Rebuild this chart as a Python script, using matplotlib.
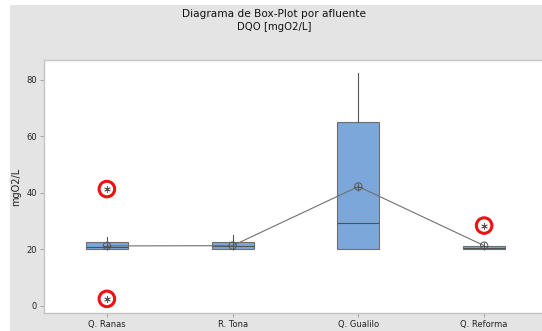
import matplotlib
matplotlib.use("Agg")
import matplotlib.pyplot as plt
from matplotlib.patches import Rectangle

categories = ["Q. Ranas", "R. Tona", "Q. Gualilo", "Q. Reforma"]
q1 = [20.1, 20.1, 20.1, 20.1]
med = [21.0, 21.3, 29.2, 20.6]
q3 = [22.7, 22.7, 65.1, 21.3]
whislo = [20.1, 20.1, 20.1, 20.1]
whishi = [24.5, 25.0, 82.2, 21.3]
means = [21.2, 21.3, 42.2, 21.3]
outliers = [[41.3, 2.5], [], [], [28.4]]
yticks = [0, 20, 40, 60, 80]

W, H = 542, 331
fig = plt.figure(figsize=(W / 100, H / 100), dpi=100)
fig.patch.set_facecolor("white")
bg = Rectangle((10 / W, 0), 1.0, 1 - 5 / H, transform=fig.transFigure,
               facecolor="#e4e4e4", edgecolor="none", zorder=-10)
fig.patches.append(bg)

ax = fig.add_axes([44 / W, 1 - 313.3 / H, (547 - 44) / W, (313.3 - 60) / H])
ax.set_facecolor("white")

stats = []
for i in range(len(categories)):
    stats.append(dict(q1=q1[i], med=med[i], q3=q3[i], whislo=whislo[i],
                      whishi=whishi[i], mean=means[i], fliers=[], label=categories[i]))

pos = list(range(len(categories)))
ax.bxp(stats, positions=pos, widths=0.334, patch_artist=True, showcaps=False,
       showmeans=False, showfliers=False,
       boxprops=dict(facecolor="#7ba7da", edgecolor="#6e6e6e", linewidth=0.8),
       medianprops=dict(color="#505050", linewidth=0.8),
       whiskerprops=dict(color="#555555", linewidth=0.8))

# mean connect line
ax.plot(pos, means, color="#707070", linewidth=0.8, zorder=4)
ax.scatter(pos, means, s=28, facecolors="none", edgecolors="#555555", linewidths=0.7, zorder=5)
ax.scatter(pos, means, s=28, marker="+", color="#555555", linewidths=0.7, zorder=5)

# outliers
for i, vals in enumerate(outliers):
    for v in vals:
        ax.scatter([i], [v], s=18, marker=(6, 2, 0), color="#555555", linewidths=0.6, zorder=6)
        ax.scatter([i], [v], s=125, facecolors="none", edgecolors="#ee1111", linewidths=2.2, zorder=7)

ax.set_xlim(-0.5, 3.5)
ax.set_ylim(-2.6, 86.9)
ax.set_xticks(pos)
ax.set_xticklabels(categories)
ax.set_yticks(yticks)
for s in ax.spines.values():
    s.set_color("#c4c4c4")
    s.set_linewidth(1.0)
ax.tick_params(axis="both", direction="out", length=3, width=0.6, color="#999999",
               labelsize=6, labelcolor="#222222", pad=2)
ax.set_ylabel("mgO2/L", fontsize=7, color="#222222", labelpad=4)

fig.text(274 / W, 1 - 14 / H, "Diagrama de Box-Plot por afluente", ha="center", va="center",
         fontsize=7.6, color="#111111")
fig.text(274 / W, 1 - 27.5 / H, "DQO [mgO2/L]", ha="center", va="center",
         fontsize=7.3, color="#111111")

fig.savefig("out.png", dpi=100)
